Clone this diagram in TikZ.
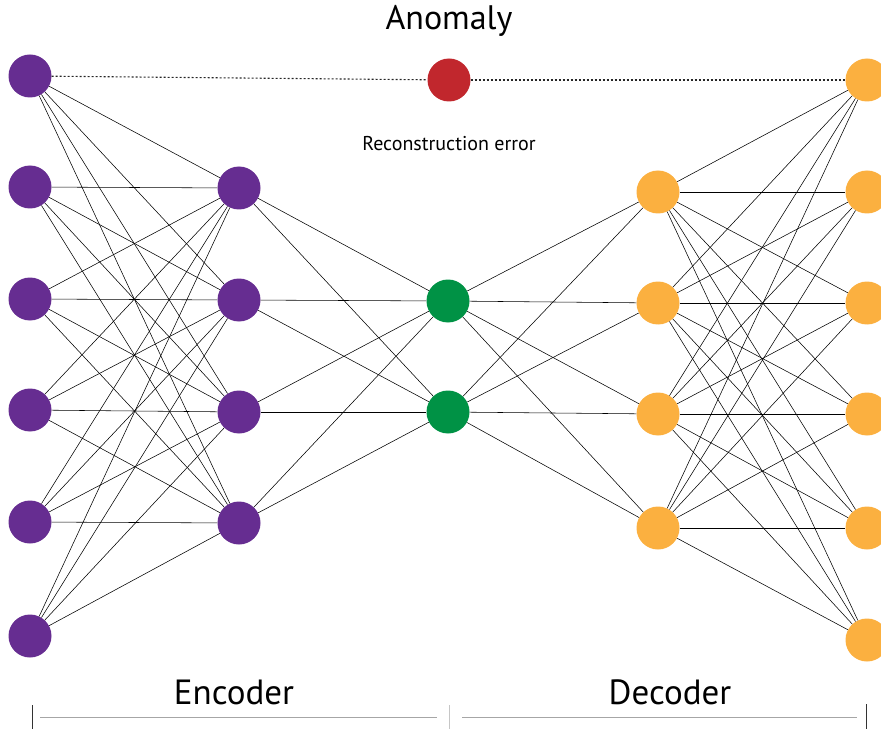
\documentclass[tikz,border=0pt]{standalone}
\usepackage{fontspec}
\setmainfont{PT Sans}
\definecolor{encpurple}{HTML}{662D91}
\definecolor{errred}{HTML}{C1272D}
\definecolor{codegreen}{HTML}{009245}
\definecolor{decorange}{HTML}{FBB040}
\begin{document}
\begin{tikzpicture}[x=1pt,y=-1pt,
  neuron/.style={circle,minimum size=43pt,inner sep=0pt,draw=none},
  link/.style={black,line width=0.55pt},
  errlink/.style={black!85,line width=1.1pt,dash pattern=on 2pt off 2pt},
  guide/.style={gray!70,line width=0.9pt},
  tick/.style={black!80,line width=0.9pt}]
\useasboundingbox (0,0) rectangle (881,730);

% layers
\foreach \i/\y in {1/76,2/187,3/299,4/410,5/522,6/636}
  \node[neuron,fill=encpurple] (in\i) at (30,\y) {};
\foreach \i/\y in {1/188,2/300,3/412,4/523}
  \node[neuron,fill=encpurple] (enc\i) at (239,\y) {};
\foreach \i/\y in {1/301,2/412}
  \node[neuron,fill=codegreen] (code\i) at (448,\y) {};
\foreach \i/\y in {1/192,2/303,3/414,4/528}
  \node[neuron,fill=decorange] (dec\i) at (658,\y) {};
\foreach \i/\y in {1/80,2/192,3/303,4/414,5/528,6/640}
  \node[neuron,fill=decorange] (out\i) at (867,\y) {};
\node[neuron,fill=errred] (err) at (449,80) {};

% fully connected links
\foreach \a in {1,...,6} \foreach \b in {1,...,4}
  \draw[link] (in\a) -- (enc\b);
\foreach \a in {1,...,4} \foreach \b in {1,2}
  \draw[link] (enc\a) -- (code\b);
\foreach \a in {1,2} \foreach \b in {1,...,4}
  \draw[link] (code\a) -- (dec\b);
\foreach \a in {1,...,4} \foreach \b in {1,...,6}
  \draw[link] (dec\a) -- (out\b);

% reconstruction error path
\draw[errlink] (in1) -- (err);
\draw[errlink] (err) -- (out1);

% labels
\node[font=\fontsize{34}{40}\selectfont] (anom) at (449,21) {Anomaly};
\node[font=\fontsize{20}{24}\selectfont] (rec) at (449,144) {Reconstruction error};
\node[font=\fontsize{35}{40}\selectfont] (encl) at (234,692) {Encoder};
\node[font=\fontsize{35}{40}\selectfont] (decl) at (670,692) {Decoder};

% section markers
\coordinate (t1a) at (32,705); \coordinate (t1b) at (32,729);
\coordinate (t2a) at (449,705); \coordinate (t2b) at (449,729);
\coordinate (t3a) at (866,704); \coordinate (t3b) at (866,729);
\coordinate (g1a) at (40,717); \coordinate (g1b) at (437,717);
\coordinate (g2a) at (462,717); \coordinate (g2b) at (857,717);
\draw[tick] (t1a) -- (t1b);
\draw[guide,gray!45] (t2a) -- (t2b);
\draw[tick] (t3a) -- (t3b);
\draw[guide] (g1a) -- (g1b);
\draw[guide] (g2a) -- (g2b);
\end{tikzpicture}
\end{document}
